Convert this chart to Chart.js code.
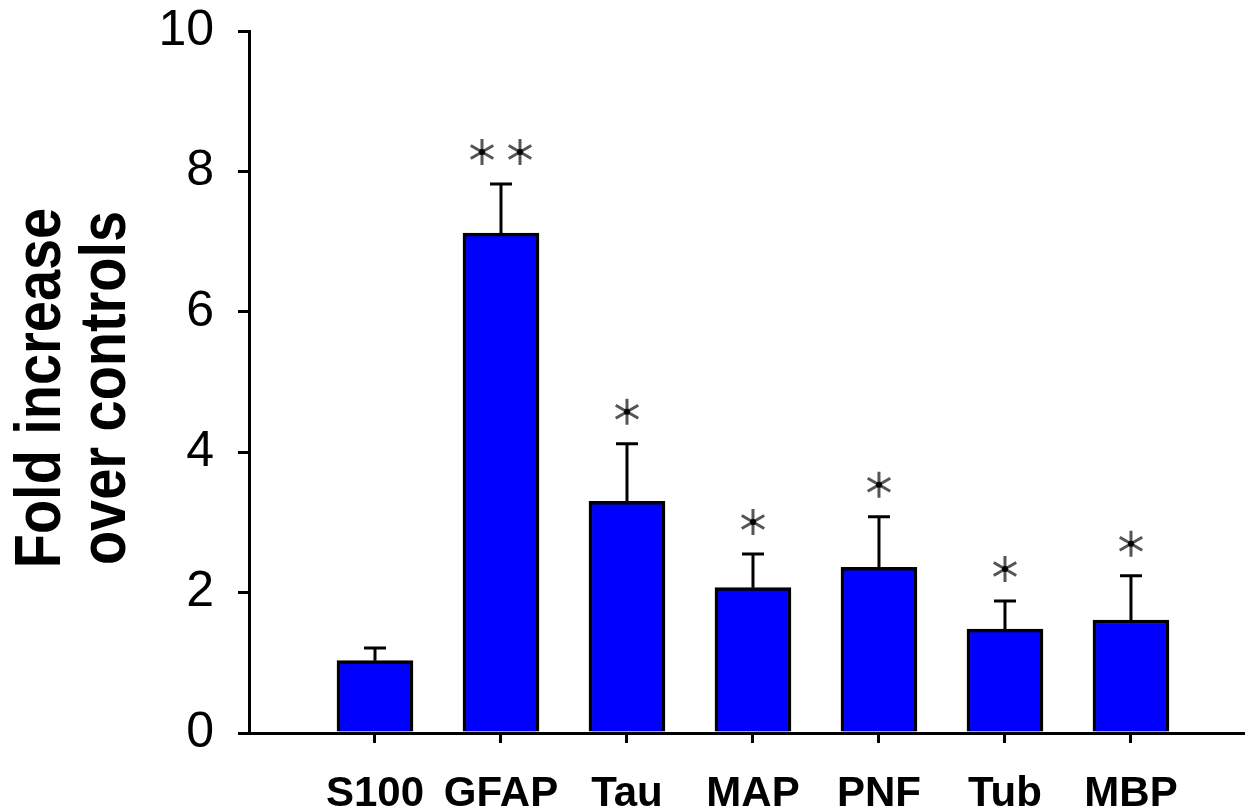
<!DOCTYPE html>
<html>
<head>
<meta charset="utf-8">
<title>Fold increase over controls</title>
<script src="https://cdn.jsdelivr.net/npm/chart.js@4/dist/chart.umd.min.js"></script>
<style>
  html, body { margin: 0; padding: 0; background: #fff; overflow: hidden; }
  canvas { display: block; }
</style>
</head>
<body>
<canvas id="chart" width="1245" height="812"></canvas>
<script>
// Marker proteins and their fold change relative to controls
const categories = ['S100', 'GFAP', 'Tau', 'MAP', 'PNF', 'Tub', 'MBP'];
const foldIncrease = [1.03, 7.12, 3.30, 2.07, 2.36, 1.48, 1.61];
const sem = [0.18, 0.70, 0.82, 0.48, 0.72, 0.40, 0.63];
const significance = ['', '**', '*', '*', '*', '*', '*'];
const yTicks = [0, 2, 4, 6, 8, 10];
const yTitleLines = ['Fold increase', 'over controls'];

const FONT = '"Liberation Sans", Arial, Helvetica, sans-serif';

// Upward error bars with caps, plus significance asterisks above them
const errorBarPlugin = {
  id: 'errorBars',
  afterDatasetsDraw(chart) {
    const ctx = chart.ctx;
    const meta = chart.getDatasetMeta(0);
    const yScale = chart.scales.y;
    ctx.save();
    meta.data.forEach((bar, i) => {
      const x = bar.x;
      const yTop = yScale.getPixelForValue(foldIncrease[i]);
      const yErr = yScale.getPixelForValue(foldIncrease[i] + sem[i]);
      ctx.strokeStyle = '#000';
      ctx.lineWidth = 3;
      ctx.lineCap = 'butt';
      ctx.beginPath();
      ctx.moveTo(x, yTop);
      ctx.lineTo(x, yErr);
      ctx.moveTo(x - 11, yErr);
      ctx.lineTo(x + 11, yErr);
      ctx.stroke();

      const n = significance[i].length;
      const gap = 38;
      for (let k = 0; k < n; k++) {
        const cx = x + (k - (n - 1) / 2) * gap;
        const cy = yErr - 32;
        drawAsterisk(ctx, cx, cy, 13);
      }
    });
    ctx.restore();
  }
};

function drawAsterisk(ctx, cx, cy, r) {
  ctx.save();
  ctx.strokeStyle = '#555';
  ctx.lineWidth = 3;
  ctx.beginPath();
  for (let a = 0; a < 3; a++) {
    const ang = Math.PI / 2 + a * Math.PI / 3;
    const dx = Math.cos(ang) * r, dy = Math.sin(ang) * r;
    ctx.moveTo(cx - dx, cy - dy);
    ctx.lineTo(cx + dx, cy + dy);
  }
  ctx.stroke();
  ctx.fillStyle = '#000';
  ctx.beginPath();
  ctx.arc(cx, cy, 3, 0, Math.PI * 2);
  ctx.fill();
  ctx.restore();
}

// Two-line rotated y-axis title in a condensed bold face
const yTitlePlugin = {
  id: 'yTitle',
  afterDraw(chart) {
    const ctx = chart.ctx;
    const area = chart.chartArea;
    const left = chart.scales.y.left;
    const cy = (area.top + area.bottom) / 2 + 6;
    const baselines = [60, 125];
    ctx.save();
    ctx.fillStyle = '#000';
    ctx.font = 'bold 65px ' + FONT;
    ctx.textAlign = 'center';
    ctx.textBaseline = 'alphabetic';
    yTitleLines.forEach((line, i) => {
      ctx.save();
      ctx.translate(left + baselines[i], cy);
      ctx.rotate(-Math.PI / 2);
      ctx.scale(0.86, 1);
      ctx.fillText(line, 0, 0);
      ctx.restore();
    });
    ctx.restore();
  }
};

new Chart(document.getElementById('chart'), {
  type: 'bar',
  data: {
    datasets: [{
      data: foldIncrease.map((v, i) => ({ x: i, y: v })),
      backgroundColor: '#0000FF',
      borderColor: '#000',
      borderWidth: 3.5,
      borderSkipped: 'bottom',
      barThickness: 76
    }]
  },
  options: {
    responsive: false,
    devicePixelRatio: 1,
    animation: false,
    layout: { padding: { top: 31, left: 0, right: 0, bottom: 0 } },
    plugins: {
      legend: { display: false },
      tooltip: { enabled: false },
      title: { display: false }
    },
    scales: {
      x: {
        type: 'linear',
        min: -1,
        max: 6.905,
        offset: false,
        afterFit(scale) {
          scale.height = 79;
          scale.paddingLeft = 0;
          scale.paddingRight = 0;
        },
        afterBuildTicks(scale) {
          scale.ticks = categories.map((c, i) => ({ value: i }));
        },
        grid: {
          offset: false,
          drawOnChartArea: false,
          drawTicks: true,
          tickLength: 10,
          color: '#000',
          lineWidth: 3
        },
        border: { display: true, color: '#000', width: 3 },
        ticks: {
          autoSkip: false,
          maxRotation: 0,
          minRotation: 0,
          padding: 26,
          color: '#000',
          font: { family: FONT, size: 42, weight: 'bold', lineHeight: 1.2 },
          callback: (value) => categories[value] ?? ''
        }
      },
      y: {
        min: 0,
        max: 10,
        afterFit(scale) {
          scale.width = 249;
          scale.paddingTop = 0;
          scale.paddingBottom = 0;
        },
        afterBuildTicks(scale) {
          scale.ticks = yTicks.map(v => ({ value: v }));
        },
        grid: {
          drawOnChartArea: false,
          drawTicks: true,
          tickLength: 11,
          color: '#000',
          lineWidth: 3
        },
        border: { display: true, color: '#000', width: 3 },
        ticks: {
          padding: 24,
          color: '#000',
          font: { family: FONT, size: 50, weight: 'normal', lineHeight: 0.4 }
        }
      }
    }
  },
  plugins: [errorBarPlugin, yTitlePlugin]
});
</script>
</body>
</html>
